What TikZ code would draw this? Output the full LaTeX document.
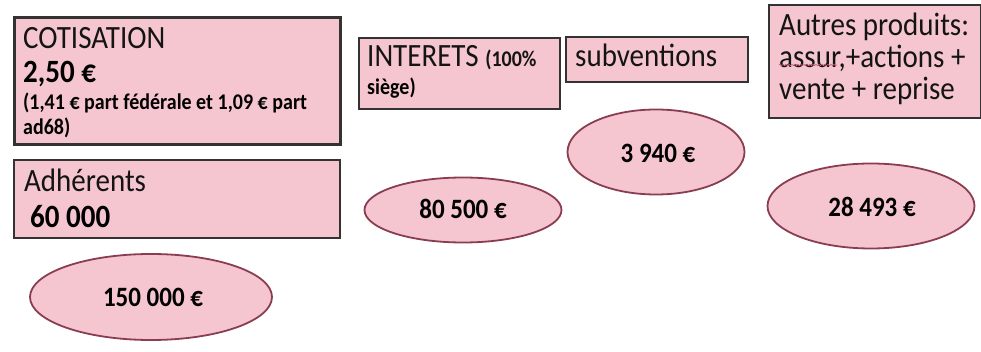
\documentclass[tikz,border=0pt]{standalone}
\usepackage{fontspec}
\usepackage{graphicx}
\setmainfont{Carlito}
\usetikzlibrary{shapes.geometric,decorations.pathmorphing}
\definecolor{pinkfill}{HTML}{F5C6CF}
\definecolor{boxline}{HTML}{333333}
\definecolor{ellline}{HTML}{8A3D52}
\definecolor{squig}{HTML}{C0607A}
\newcommand{\tallt}[1]{\scalebox{1}[1.12]{#1}}
\tikzset{
  pbox/.style={draw=boxline, line width=1.8pt, fill=pinkfill, rectangle, inner sep=0pt, anchor=north west},
  pell/.style={draw=ellline, line width=1.8pt, fill=pinkfill, ellipse, inner sep=0pt},
  big/.style={anchor=base west, inner sep=0pt, text=black!92, font=\fontsize{29}{34}\selectfont},
  bigb/.style={anchor=base west, inner sep=0pt, text=black, font=\fontsize{29}{34}\selectfont\bfseries},
  small/.style={anchor=base west, inner sep=0pt, text=black, font=\fontsize{20}{24}\selectfont\bfseries},
  val/.style={font=\fontsize{25}{30}\selectfont\bfseries, text=black, inner sep=0pt}
}
\begin{document}
\begin{tikzpicture}[x=1pt,y=-1pt]
\useasboundingbox (0,0) rectangle (981,352);
% boxes
\node[pbox, line width=2.6pt, minimum width=326pt, minimum height=127pt] (cotbox) at (13,16) {};
\node[pbox, minimum width=326pt, minimum height=78pt] (adhbox) at (13,159) {};
\node[pbox, minimum width=201pt, minimum height=71pt] (intbox) at (358,37) {};
\node[pbox, minimum width=182pt, minimum height=45pt] (subbox) at (565,36) {};
\node[pbox, minimum width=212pt, minimum height=113pt] (autbox) at (768,4) {};
% texts
\node[big] (cot1) at (23,49) {\tallt{COTISATION}};
\node[bigb] (cot2) at (23,83) {\tallt{2,50 €}};
\node[small] (cot3) at (23,110) {\tallt{(1,41 € part fédérale et 1,09 € part}};
\node[small] (cot4) at (23,135) {\tallt{ad68)}};
\node[big] (adh1) at (24,192) {\tallt{Adhérents}};
\node[bigb] (adh2) at (30,228) {\tallt{60 000}};
\node[big] (int1) at (367,67) {\tallt{INTERETS \fontsize{20}{24}\selectfont\bfseries(100\%}};
\node[small] (int2) at (367,95) {\tallt{siège)}};
\node[big] (sub1) at (575,67) {\tallt{subventions}};
\node[big] (aut1) at (779,36) {\tallt{Autres produits:}};
\node[big] (aut2) at (779,68) {\tallt{assur,+actions +}};
\node[big] (aut3) at (779,100) {\tallt{vente + reprise}};
\draw[squig, line width=0.7pt, decorate, decoration={snake, amplitude=0.6pt, segment length=3pt}]
  ([yshift=3pt]aut2.base west) -- ++(58,0);
% ellipses
\node[pell, minimum width=242pt, minimum height=86pt] (e1) at (151,297) {};
\node[val] (v1) at (153,297) {\tallt{150 000 €}};
\node[pell, minimum width=197pt, minimum height=65pt] (e2) at (463,210) {};
\node[val] (v2) at (463,209) {\tallt{80 500 €}};
\node[pell, minimum width=177pt, minimum height=85pt] (e3) at (656,152) {};
\node[val] (v3) at (658,153) {\tallt{3 940 €}};
\node[pell, minimum width=207pt, minimum height=85pt] (e4) at (871,206) {};
\node[val] (v4) at (872,207) {\tallt{28 493 €}};
\end{tikzpicture}
\end{document}
